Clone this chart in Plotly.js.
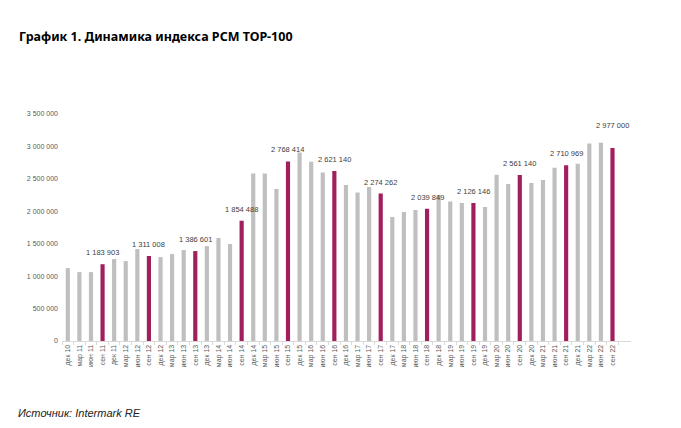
<!DOCTYPE html>
<html>
<head>
<meta charset="utf-8">
<script src="https://cdn.plot.ly/plotly-3.0.1.min.js"></script>
<style>
  html, body { margin: 0; padding: 0; background: #fff; }
  #chart { width: 681px; height: 428px; }
</style>
</head>
<body>
<div id="chart"></div>
<script>
// quarters, dec 2010 .. sep 2022
var quarters = ["дек 10",
  "мар 11", "июн 11", "сен 11", "дек 11",
  "мар 12", "июн 12", "сен 12", "дек 12",
  "мар 13", "июн 13", "сен 13", "дек 13",
  "мар 14", "июн 14", "сен 14", "дек 14",
  "мар 15", "июн 15", "сен 15", "дек 15",
  "мар 16", "июн 16", "сен 16", "дек 16",
  "мар 17", "июн 17", "сен 17", "дек 17",
  "мар 18", "июн 18", "сен 18", "дек 18",
  "мар 19", "июн 19", "сен 19", "дек 19",
  "мар 20", "июн 20", "сен 20", "дек 20",
  "мар 21", "июн 21", "сен 21", "дек 21",
  "мар 22", "июн 22", "сен 22"];

// index value, rub/sq.m (non-september values)
var index = [1124000,
  1062000, 1062000, 1183903, 1263000,
  1232000, 1418000, 1311008, 1294000,
  1340000, 1402000, 1386601, 1464000,
  1588000, 1495000, 1854488, 2582000,
  2582000, 2345000, 2768414, 2906000,
  2762000, 2597000, 2621140, 2407000,
  2288000, 2376000, 2274262, 1912000,
  1990000, 2020000, 2039849, 2252000,
  2149000, 2129000, 2126146, 2067000,
  2562000, 2422000, 2561140, 2438000,
  2484000, 2670000, 2710969, 2732000,
  3045000, 3056000, 2977000];

var yTicks = [0, 500000, 1000000, 1500000, 2000000, 2500000, 3000000, 3500000];

function fmt(v) {
  return String(v).replace(/\B(?=(\d{3})+(?!\d))/g, " ");
}

var colors = quarters.map(function (q) {
  return q.indexOf("сен") === 0 ? "#a21f5e" : "#bfbfbf";
});

var trace = {
  x: quarters,
  y: index,
  type: "bar",
  marker: {color: colors},
  hoverinfo: "x+y"
};

// labels above september bars
var notes = [];
quarters.forEach(function (q, i) {
  if (q.indexOf("сен") !== 0) return;
  notes.push({
    x: q, y: index[i], xref: "x", yref: "y",
    text: fmt(index[i]),
    showarrow: false,
    yanchor: "bottom",
    yshift: i === quarters.length - 1 ? 16 : 5,
    font: {family: "Liberation Sans, Arial, sans-serif", size: 7.5, color: "#404040"}
  });
});

notes.push({
  xref: "paper", yref: "paper", x: -45 / 569, y: 1 + 77 / 226.4,
  xanchor: "left", yanchor: "middle", showarrow: false,
  text: "<b>График 1. Динамика индекса РСМ ТОР-100</b>",
  font: {family: "Noto Sans, sans-serif", size: 12.5, color: "#000"}
});
notes.push({
  xref: "paper", yref: "paper", x: -46 / 569, y: -(413 - 340.7) / 226.4,
  xanchor: "left", yanchor: "middle", showarrow: false,
  text: "<i>Источник: Intermark RE</i>",
  font: {family: "Liberation Sans, Arial, sans-serif", size: 11, color: "#222"}
});

var layout = {
  width: 681,
  height: 428,
  margin: {l: 62, r: 50, t: 114, b: 87},
  paper_bgcolor: "#fff",
  plot_bgcolor: "#fff",
  showlegend: false,
  bargap: 0.64,
  xaxis: {
    type: "category",
    tickangle: -90,
    tickfont: {family: "Liberation Sans, Arial, sans-serif", size: 7, color: "#595959"},
    showline: true,
    linecolor: "#d9d9d9",
    ticks: "outside",
    tickson: "boundaries",
    ticklen: 3,
    tickcolor: "#d9d9d9",
    showgrid: false,
    fixedrange: true
  },
  yaxis: {
    range: [0, 3500000],
    tickvals: yTicks,
    ticktext: yTicks.map(fmt),
    tickfont: {family: "Liberation Sans, Arial, sans-serif", size: 7, color: "#595959"},
    showgrid: false,
    zeroline: false,
    showline: false,
    ticks: "",
    ticklabelstandoff: 3,
    fixedrange: true
  },
  annotations: notes
};

Plotly.newPlot("chart", [trace], layout, {displayModeBar: false, staticPlot: true});
</script>
</body>
</html>
